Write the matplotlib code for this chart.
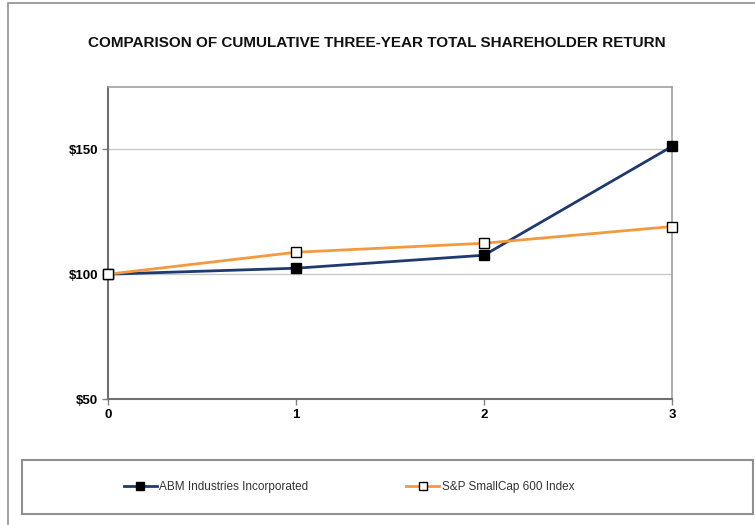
import matplotlib.pyplot as plt
from matplotlib.patches import Rectangle

years = [0, 1, 2, 3]
abm = [100, 102.4, 107.6, 151.2]
sp600 = [100, 108.8, 112.4, 119.1]
y_ticks = [50, 100, 150]
y_labels = ['$50', '$100', '$150']

plt.rcParams['font.family'] = ['Liberation Sans', 'DejaVu Sans']

fig = plt.figure(figsize=(7.55, 5.25), dpi=100)
ax = fig.add_axes([108 / 755, 1 - 399 / 525, (672 - 108) / 755, (399 - 87) / 525])

ax.plot(years, abm, color='#1F3A6E', lw=2, marker='s', ms=7, clip_on=False,
        mfc='black', mec='black', label='ABM Industries Incorporated', zorder=3)
ax.plot(years, sp600, color='#F39A3E', lw=2, marker='s', ms=7, clip_on=False,
        mfc='white', mec='black', mew=1, label='S&P SmallCap 600 Index', zorder=3)

ax.set_xlim(0, 3)
ax.set_ylim(50, 175)
ax.set_xticks(years)
ax.set_xticklabels([str(y) for y in years], fontweight='bold', fontsize=9.5)
ax.set_yticks(y_ticks)
ax.set_yticklabels(y_labels, fontweight='bold', fontsize=9.5)
ax.tick_params(length=4, width=1, color='#808080', pad=3)
ax.grid(axis='y', color='#C8C8C8', lw=1)
ax.set_axisbelow(True)

for side in ['left', 'bottom']:
    ax.spines[side].set_color('#707070')
    ax.spines[side].set_linewidth(1.5)
for side in ['top', 'right']:
    ax.spines[side].set_color('#A0A0A0')
    ax.spines[side].set_linewidth(1.2)

fig.text(377 / 755, 1 - 43 / 525, 'COMPARISON OF CUMULATIVE THREE-YEAR TOTAL SHAREHOLDER RETURN',
         ha='center', va='center', fontsize=11, fontweight='bold', color='#111111')

# outer border and legend box
fig.patches.append(Rectangle((8 / 755, -0.01), 1.0, (525 - 2.5) / 525 + 0.01,
                             transform=fig.transFigure, fill=False, ec='#909090', lw=1.2))
fig.patches.append(Rectangle((22 / 755, 1 - 514 / 525), (753 - 22) / 755, (514 - 460) / 525,
                             transform=fig.transFigure, fill=False, ec='#909090', lw=1.5))

fig.legend(loc='center', bbox_to_anchor=(349 / 755, 1 - 487 / 525), ncol=2,
           frameon=False, fontsize=8.5, handlelength=2.8, columnspacing=8.3,
           labelcolor='#333333', handletextpad=0.2, markerscale=0.8)

fig.savefig('out.png', dpi=100)
